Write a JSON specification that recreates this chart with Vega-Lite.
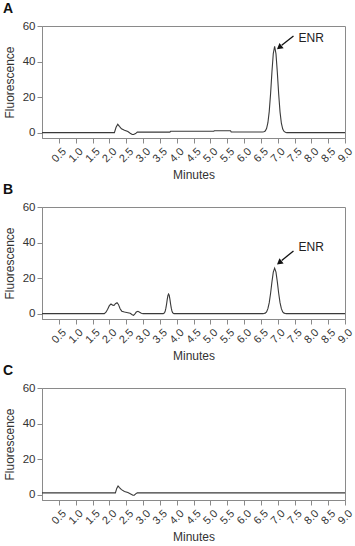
{
  "$schema": "https://vega.github.io/schema/vega-lite/v6.json",
  "padding": {"left": 2, "top": 1, "right": 5, "bottom": 0},
  "spacing": 0,
  "datasets": {
    "A": [
      {"t": 0, "v": 0.0}, {"t": 2.15, "v": 0.0}, {"t": 2.2, "v": 3.0}, {"t": 2.25, "v": 4.7}, {"t": 2.3, "v": 3.5},
      {"t": 2.36, "v": 2.2}, {"t": 2.45, "v": 1.3}, {"t": 2.55, "v": 0.6}, {"t": 2.62, "v": -0.3}, {"t": 2.68, "v": -1.0},
      {"t": 2.72, "v": -1.0}, {"t": 2.78, "v": -0.5}, {"t": 2.83, "v": 0.3}, {"t": 3.8, "v": 0.3}, {"t": 3.82, "v": 0.8},
      {"t": 5.1, "v": 0.8}, {"t": 5.12, "v": 1.1}, {"t": 5.6, "v": 1.1}, {"t": 5.62, "v": 0.4}, {"t": 6.55, "v": 0.4},
      {"t": 6.59, "v": 0.5}, {"t": 6.63, "v": 0.9}, {"t": 6.67, "v": 2.3}, {"t": 6.71, "v": 5.6}, {"t": 6.75, "v": 12.0},
      {"t": 6.79, "v": 22.0}, {"t": 6.83, "v": 34.2}, {"t": 6.87, "v": 44.5}, {"t": 6.91, "v": 48.6}, {"t": 6.95, "v": 44.3},
      {"t": 6.99, "v": 33.9}, {"t": 7.03, "v": 21.8}, {"t": 7.07, "v": 11.7}, {"t": 7.11, "v": 5.3}, {"t": 7.15, "v": 2.0},
      {"t": 7.19, "v": 0.7}, {"t": 7.23, "v": 0.2}, {"t": 7.27, "v": 0.0}, {"t": 9.0, "v": 0.0}
    ],
    "B": [
      {"t": 0, "v": 0.0}, {"t": 1.85, "v": 0.0}, {"t": 1.9, "v": 0.8}, {"t": 1.95, "v": 2.5}, {"t": 2.0, "v": 4.5},
      {"t": 2.05, "v": 5.4}, {"t": 2.1, "v": 4.8}, {"t": 2.14, "v": 4.6}, {"t": 2.18, "v": 5.6}, {"t": 2.23, "v": 6.2},
      {"t": 2.27, "v": 5.2}, {"t": 2.32, "v": 2.8}, {"t": 2.37, "v": 1.4}, {"t": 2.45, "v": 0.9}, {"t": 2.55, "v": 0.5},
      {"t": 2.62, "v": 0.2}, {"t": 2.68, "v": -0.6}, {"t": 2.72, "v": -0.9}, {"t": 2.76, "v": -0.1}, {"t": 2.8, "v": 0.9},
      {"t": 2.85, "v": 1.3}, {"t": 2.9, "v": 0.8}, {"t": 2.95, "v": 0.2}, {"t": 3.0, "v": 0.0}, {"t": 3.6, "v": 0.0},
      {"t": 3.62, "v": 0.2}, {"t": 3.64, "v": 0.6}, {"t": 3.66, "v": 1.5}, {"t": 3.68, "v": 3.1}, {"t": 3.7, "v": 5.4},
      {"t": 3.72, "v": 8.0}, {"t": 3.74, "v": 10.2}, {"t": 3.76, "v": 11.0}, {"t": 3.78, "v": 10.2}, {"t": 3.8, "v": 8.0},
      {"t": 3.82, "v": 5.4}, {"t": 3.84, "v": 3.1}, {"t": 3.86, "v": 1.5}, {"t": 3.88, "v": 0.6}, {"t": 3.9, "v": 0.2},
      {"t": 3.92, "v": 0.0}, {"t": 6.57, "v": 0.0}, {"t": 6.59, "v": 0.1}, {"t": 6.63, "v": 0.3}, {"t": 6.67, "v": 1.0},
      {"t": 6.71, "v": 2.8}, {"t": 6.75, "v": 6.2}, {"t": 6.79, "v": 11.5}, {"t": 6.83, "v": 17.9}, {"t": 6.87, "v": 23.4},
      {"t": 6.91, "v": 25.6}, {"t": 6.95, "v": 23.4}, {"t": 6.99, "v": 17.9}, {"t": 7.03, "v": 11.5}, {"t": 7.07, "v": 6.2},
      {"t": 7.11, "v": 2.8}, {"t": 7.15, "v": 1.0}, {"t": 7.19, "v": 0.3}, {"t": 7.23, "v": 0.1}, {"t": 7.25, "v": 0.0},
      {"t": 9.0, "v": 0.0}
    ],
    "C": [
      {"t": 0, "v": 1.0}, {"t": 2.18, "v": 1.0}, {"t": 2.22, "v": 3.5}, {"t": 2.26, "v": 4.9}, {"t": 2.3, "v": 4.0},
      {"t": 2.36, "v": 2.8}, {"t": 2.45, "v": 1.8}, {"t": 2.55, "v": 1.2}, {"t": 2.62, "v": 0.5}, {"t": 2.7, "v": -0.3},
      {"t": 2.74, "v": -0.3}, {"t": 2.79, "v": 0.6}, {"t": 2.83, "v": 1.0}, {"t": 9.0, "v": 1.0}
    ]
  },
  "vconcat": [
    {
      "title": {"text": "A"},
      "width": 303,
      "height": 112,
      "encoding": {
        "x": {"field": "t", "type": "quantitative", "title": "Minutes",
              "scale": {"domain": [0, 9], "nice": false, "zero": false},
              "axis": {"values": [0.5,1,1.5,2,2.5,3,3.5,4,4.5,5,5.5,6,6.5,7,7.5,8,8.5,9], "format": ".1f"}},
        "y": {"field": "v", "type": "quantitative", "title": "Fluorescence",
              "scale": {"domain": [-3, 60], "nice": false, "zero": false},
              "axis": {"values": [0, 20, 40, 60]}}
      },
      "layer": [
        {"data": {"name": "A"}, "mark": {"type": "line", "color": "#3a3a3a", "strokeWidth": 1.1}},
        {"data": {"values": [{"t": 7.47, "v": 54.4, "t2": 7.12, "v2": 49.2}]}, "mark": {"type": "rule", "color": "#111", "strokeWidth": 1.3},
         "encoding": {"x2": {"field": "t2"}, "y2": {"field": "v2"}}},
        {"data": {"values": [{"t": 7.07, "v": 48.3}]}, "mark": {"type": "point", "shape": "triangle", "filled": true, "color": "#111", "opacity": 1, "angle": 232, "size": 45}},
        {"data": {"values": [{"t": 7.62, "v": 53.0, "label": "ENR"}]}, "mark": {"type": "text", "align": "left", "baseline": "middle", "fontSize": 12, "color": "#222"},
         "encoding": {"text": {"field": "label"}}}
      ]
    },
    {
      "title": {"text": "B"},
      "width": 303,
      "height": 112,
      "encoding": {
        "x": {"field": "t", "type": "quantitative", "title": "Minutes",
              "scale": {"domain": [0, 9], "nice": false, "zero": false},
              "axis": {"values": [0.5,1,1.5,2,2.5,3,3.5,4,4.5,5,5.5,6,6.5,7,7.5,8,8.5,9], "format": ".1f"}},
        "y": {"field": "v", "type": "quantitative", "title": "Fluorescence",
              "scale": {"domain": [-3, 60], "nice": false, "zero": false},
              "axis": {"values": [0, 20, 40, 60]}}
      },
      "layer": [
        {"data": {"name": "B"}, "mark": {"type": "line", "color": "#3a3a3a", "strokeWidth": 1.1}},
        {"data": {"values": [{"t": 7.47, "v": 35.3, "t2": 7.12, "v2": 29.9}]}, "mark": {"type": "rule", "color": "#111", "strokeWidth": 1.3},
         "encoding": {"x2": {"field": "t2"}, "y2": {"field": "v2"}}},
        {"data": {"values": [{"t": 7.07, "v": 29.0}]}, "mark": {"type": "point", "shape": "triangle", "filled": true, "color": "#111", "opacity": 1, "angle": 232, "size": 45}},
        {"data": {"values": [{"t": 7.62, "v": 37.3, "label": "ENR"}]}, "mark": {"type": "text", "align": "left", "baseline": "middle", "fontSize": 12, "color": "#222"},
         "encoding": {"text": {"field": "label"}}}
      ]
    },
    {
      "title": {"text": "C"},
      "width": 303,
      "height": 112,
      "encoding": {
        "x": {"field": "t", "type": "quantitative", "title": "Minutes",
              "scale": {"domain": [0, 9], "nice": false, "zero": false},
              "axis": {"values": [0.5,1,1.5,2,2.5,3,3.5,4,4.5,5,5.5,6,6.5,7,7.5,8,8.5,9], "format": ".1f"}},
        "y": {"field": "v", "type": "quantitative", "title": "Fluorescence",
              "scale": {"domain": [-3, 60], "nice": false, "zero": false},
              "axis": {"values": [0, 20, 40, 60]}}
      },
      "layer": [
        {"data": {"name": "C"}, "mark": {"type": "line", "color": "#3a3a3a", "strokeWidth": 1.1}}
      ]
    }
  ],
  "config": {
    "font": "Liberation Sans",
    "view": {"stroke": "#8a8a8a", "strokeWidth": 1},
    "axis": {"grid": false, "domainColor": "#8a8a8a", "tickColor": "#8a8a8a", "tickSize": 5, "labelColor": "#333", "titleColor": "#333",
             "labelFontSize": 11.5, "titleFontSize": 12, "titleFontWeight": "normal", "labelPadding": 2, "labelOverlap": false},
    "axisY": {"titlePadding": 6},
    "axisX": {"titlePadding": 6, "labelFontSize": 11, "labelAngle": -45, "labelAlign": "center", "labelBaseline": "middle", "labelPadding": 12},
    "title": {"anchor": "start", "frame": "group", "fontSize": 14, "fontWeight": "bold", "color": "#111", "offset": 4, "dx": -39}
  }
}
